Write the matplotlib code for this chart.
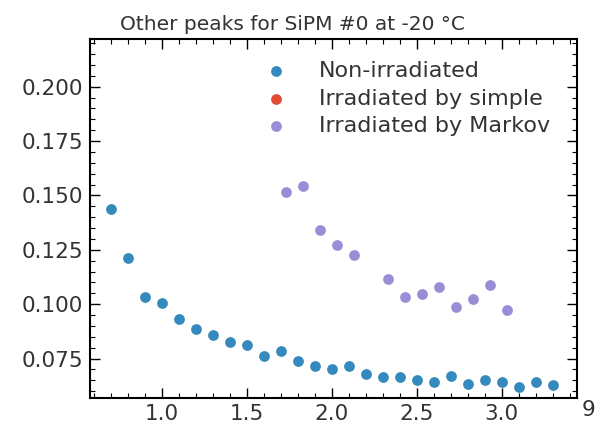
import matplotlib
matplotlib.use("Agg")
import matplotlib.pyplot as plt
from matplotlib.ticker import MultipleLocator

# Non-irradiated
x_non = [0.7, 0.8, 0.9, 1.0, 1.1, 1.2, 1.3, 1.4, 1.5, 1.6, 1.7, 1.8, 1.9, 2.0,
         2.1, 2.2, 2.3, 2.4, 2.5, 2.6, 2.7, 2.8, 2.9, 3.0, 3.1, 3.2, 3.3]
y_non = [0.1436, 0.1213, 0.1032, 0.1007, 0.0932, 0.0886, 0.0856, 0.0825, 0.0812,
         0.0763, 0.0786, 0.0740, 0.0717, 0.0702, 0.0717, 0.0679, 0.0664, 0.0666,
         0.0651, 0.0642, 0.0669, 0.0634, 0.0651, 0.0644, 0.0621, 0.0644, 0.0628]

# Irradiated by simple (no points shown)
x_simple = []
y_simple = []

# Irradiated by Markov
x_markov = [1.73, 1.83, 1.93, 2.03, 2.13, 2.33, 2.43, 2.53, 2.63, 2.73, 2.83, 2.93, 3.03]
y_markov = [0.1518, 0.1543, 0.1343, 0.1273, 0.1228, 0.1116, 0.1032, 0.1047,
            0.1078, 0.0985, 0.1024, 0.1086, 0.0971]

title = "Other peaks for SiPM #0 at -20 °C"

fig = plt.figure(figsize=(5.95, 4.29), dpi=100)
ax = fig.add_axes([90/595, 1 - 398.3/429, (577 - 90)/595, (398.3 - 39.3)/429])

ax.scatter(x_non, y_non, s=60, color="#348ABD", linewidths=0, label="Non-irradiated")
ax.scatter(x_simple, y_simple, s=60, color="#E24A33", linewidths=0, label="Irradiated by simple")
ax.scatter(x_markov, y_markov, s=60, color="#988ED5", linewidths=0, label="Irradiated by Markov")

ax.set_xlim(0.578, 3.443)
ax.set_ylim(0.0567, 0.2218)
ax.xaxis.set_major_locator(MultipleLocator(0.5))
ax.xaxis.set_minor_locator(MultipleLocator(0.1))
ax.yaxis.set_major_locator(MultipleLocator(0.025))
ax.yaxis.set_minor_locator(MultipleLocator(0.005))
ax.tick_params(which="both", direction="in", top=True, right=True,
               labelsize=15.5, labelcolor="#333333")
ax.tick_params(axis="x", pad=4)
ax.tick_params(axis="y", pad=5)
ax.tick_params(which="major", length=7, width=1)
ax.tick_params(which="minor", length=3.5, width=0.8)
for sp in ax.spines.values():
    sp.set_linewidth(1.5)

# title sits left of the axes centre in the reference
ax.set_title(title, fontsize=14.5, color="#333333", pad=7, x=(292.5 - 90) / 487)

leg = ax.legend(loc="upper right", bbox_to_anchor=(0.985, 0.995), frameon=False,
                fontsize=16, handletextpad=0.9, labelspacing=0.34, markerscale=1.0)
for t in leg.get_texts():
    t.set_color("#333333")

fig.text(582/595, 1 - 410/429, "9", fontsize=15.5, color="#333333", va="center", ha="left")

fig.savefig("out.png", dpi=100)
